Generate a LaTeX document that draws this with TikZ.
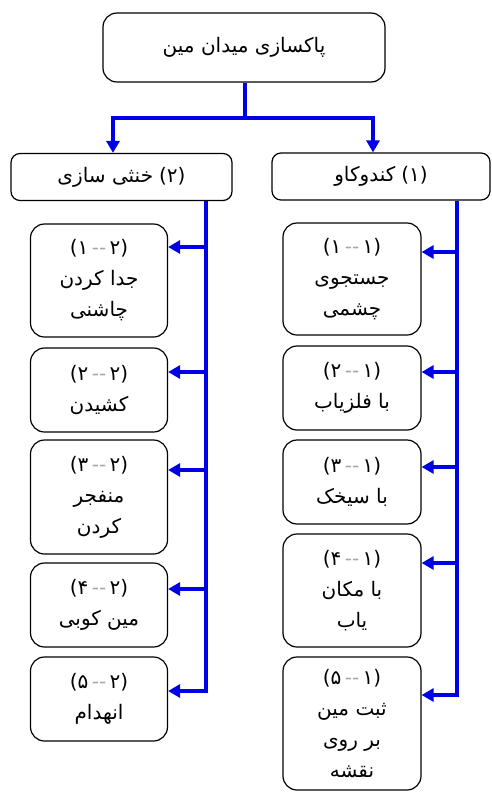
\documentclass[tikz,border=0pt]{standalone}
\usepackage{fontspec}
\newfontfamily\arabicfont[Script=Arabic]{DejaVu Sans}
\newfontfamily\digitfont{DejaVu Sans}
\TeXXeTstate=1
\usetikzlibrary{arrows.meta}
\definecolor{busblue}{RGB}{0,0,230}
\newcommand\fa[1]{{\arabicfont\beginR #1\endR}}
\newcommand\num[2]{{\digitfont (#2\,\textcolor{black!35}{--}\,#1)}}

\begin{document}
\begin{tikzpicture}[x=1pt,y=-1pt,
  box/.style={draw,line width=1.2pt,rounded corners=14pt,align=center,
    inner sep=0pt,font=\fontsize{20}{31}\selectfont},
  head/.style={box,rounded corners=9pt,minimum height=47pt},
  link/.style={draw=busblue,line width=4pt,
    -{Triangle[length=12pt,width=13pt]}}]
\useasboundingbox (0,0) rectangle (491,793);
% top
\node[box,minimum width=282pt,minimum height=69pt] (clear) at (244,47.5)
  {\fa{پاکسازی میدان مین}};
\node[head,minimum width=218pt] (dig) at (381,176.5)
  {\fa{کندوکاو}~{\digitfont(۱)}};
\node[head,minimum width=221pt] (defuse) at (121.5,177)
  {\fa{خنثی سازی}~{\digitfont(۲)}};
% right column
\node[box,minimum width=138pt,minimum height=112pt] (dig1) at (352,279)
  {\num{۱}{۱}\\\fa{جستجوی}\\\fa{چشمی}};
\node[box,minimum width=138pt,minimum height=84pt] (dig2) at (352,388)
  {\num{۱}{۲}\\\fa{با فلزیاب}};
\node[box,minimum width=138pt,minimum height=84pt] (dig3) at (352,482)
  {\num{۱}{۳}\\\fa{با سیخک}};
\node[box,minimum width=138pt,minimum height=113pt] (dig4) at (352,590.5)
  {\num{۱}{۴}\\\fa{با مکان}\\\fa{یاب}};
\node[box,minimum width=138pt,minimum height=133pt] (dig5) at (352,723.5)
  {\num{۱}{۵}\\\fa{ثبت مین}\\\fa{بر روی}\\\fa{نقشه}};
% left column
\node[box,minimum width=137pt,minimum height=113pt] (def1) at (99,280.5)
  {\num{۲}{۱}\\\fa{جدا کردن}\\\fa{چاشنی}};
\node[box,minimum width=137pt,minimum height=84pt] (def2) at (99,390)
  {\num{۲}{۲}\\\fa{کشیدن}};
\node[box,minimum width=137pt,minimum height=114pt] (def3) at (99,497)
  {\num{۲}{۳}\\\fa{منفجر}\\\fa{کردن}};
\node[box,minimum width=137pt,minimum height=84pt] (def4) at (99,605)
  {\num{۲}{۴}\\\fa{مین کوبی}};
\node[box,minimum width=137pt,minimum height=84pt] (def5) at (99,699)
  {\num{۲}{۵}\\\fa{انهدام}};
% connectors
\coordinate (split) at (245,118);
\coordinate (jdef) at (113,118);
\coordinate (jdig) at (373,118);
\draw[link,-] (clear.south -| split) -- (split);
\draw[link] (split) -| (jdef |- defuse.north);
\draw[link] (split) -| (jdig |- dig.north);
\foreach \y [count=\i] in {252,372,467,563,695}
  \coordinate (r\i) at (457,\y);
\foreach \y [count=\i] in {247,372,470,589,691}
  \coordinate (l\i) at (206,\y);
\draw[link] (dig.south -| r5) -- (r5) -- (r5 -| dig5.east);
\draw[link] (defuse.south -| l5) -- (l5) -- (l5 -| def5.east);
\foreach \i in {1,...,4}{
  \draw[link] (r\i) -- (r\i -| dig\i.east);
  \draw[link] (l\i) -- (l\i -| def\i.east);
}
\end{tikzpicture}
\end{document}
